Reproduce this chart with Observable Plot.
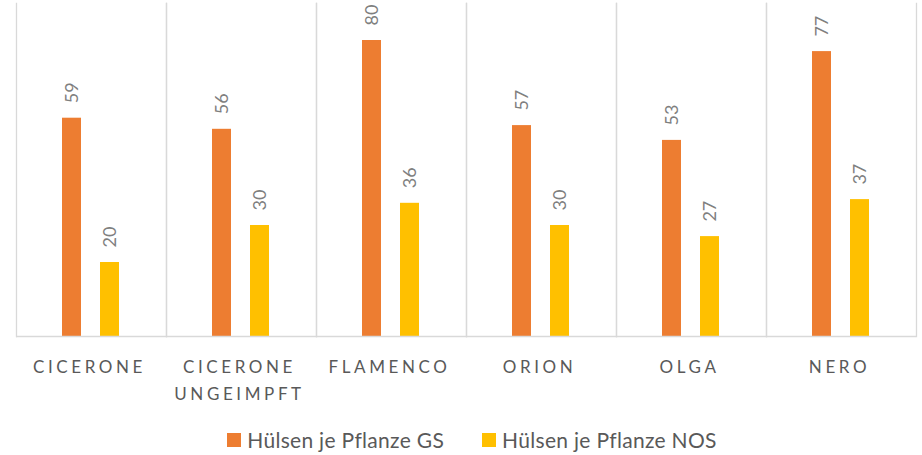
<!DOCTYPE html>
<html><head><meta charset="utf-8">
<script src="https://cdn.jsdelivr.net/npm/d3@7"></script>
<script src="https://cdn.jsdelivr.net/npm/@observablehq/plot@0.6"></script>
<style>
html,body{margin:0;padding:0;background:#fff;}
body{width:922px;height:455px;overflow:hidden;font-family:Lato,"Open Sans",sans-serif;}
#chart svg{display:block;font-family:Lato,"Open Sans",sans-serif;}
#legend{display:flex;justify-content:center;align-items:center;height:45px;padding-left:22px;box-sizing:border-box;padding-top:14px;
  font-family:Lato,"Open Sans",sans-serif;font-size:21px;letter-spacing:0.3px;color:#595959;}
#legend .item{display:flex;align-items:center;margin:0 19px;}
#legend .sw{width:14px;height:14px;margin-right:6px;}
</style></head>
<body><div id="chart"></div><div id="legend"></div>
<script>
const categories = ["CICERONE", "CICERONE\nUNGEIMPFT", "FLAMENCO", "ORION", "OLGA", "NERO"];
const seriesNames = ["Hülsen je Pflanze GS", "Hülsen je Pflanze NOS"];
const gsValues = [59, 56, 80, 57, 53, 77];
const nosValues = [20, 30, 36, 30, 27, 37];
const seriesColors = ["#ED7D31", "#FFC000"];

const data = categories.flatMap((c, i) => [
  {category: c, series: seriesNames[0], value: gsValues[i]},
  {category: c, series: seriesNames[1], value: nosValues[i]}
]);

const grid = "#d9d9d9";
const chart = Plot.plot({
  width: 922, height: 410,
  marginLeft: 15, marginRight: 5, marginTop: 3, marginBottom: 74,
  style: {background: "#fff", fontFamily: "Lato, 'Open Sans', sans-serif"},
  fx: {domain: categories, padding: 0, axis: null},
  x: {domain: seriesNames, axis: null, paddingInner: 0.487, paddingOuter: 1.18},
  y: {domain: [0, 90], axis: null},
  color: {domain: seriesNames, range: seriesColors},
  marks: [
    Plot.frame({anchor: "left", stroke: grid, strokeWidth: 1.3}),
    Plot.frame({anchor: "right", stroke: grid, strokeWidth: 1.3}),
    Plot.barY(data, {fx: "category", x: "series", y: "value", fill: "series"}),
    Plot.ruleY([0], {stroke: grid, strokeWidth: 1.3}),
    Plot.text(data, {fx: "category", x: "series", y: "value", text: d => String(d.value),
      rotate: -90, textAnchor: "start", dy: -15, fill: "#7f7f7f", fontSize: 18}),
    Plot.text(categories, {fx: d => d, text: d => d, frameAnchor: "bottom", lineAnchor: "top",
      dy: 17, dx: -2, lineHeight: 1.6, fill: "#595959", fontSize: 17})
  ]
});
d3.select(chart).selectAll('g[fill="#595959"] text').style("letter-spacing", "3.6px");
document.getElementById("chart").appendChild(chart);

const legend = document.getElementById("legend");
seriesNames.forEach((name, i) => {
  const item = document.createElement("div");
  item.className = "item";
  const sw = document.createElement("div");
  sw.className = "sw";
  sw.style.background = seriesColors[i];
  const label = document.createElement("span");
  label.textContent = name;
  item.appendChild(sw);
  item.appendChild(label);
  legend.appendChild(item);
});
</script>
</body></html>
